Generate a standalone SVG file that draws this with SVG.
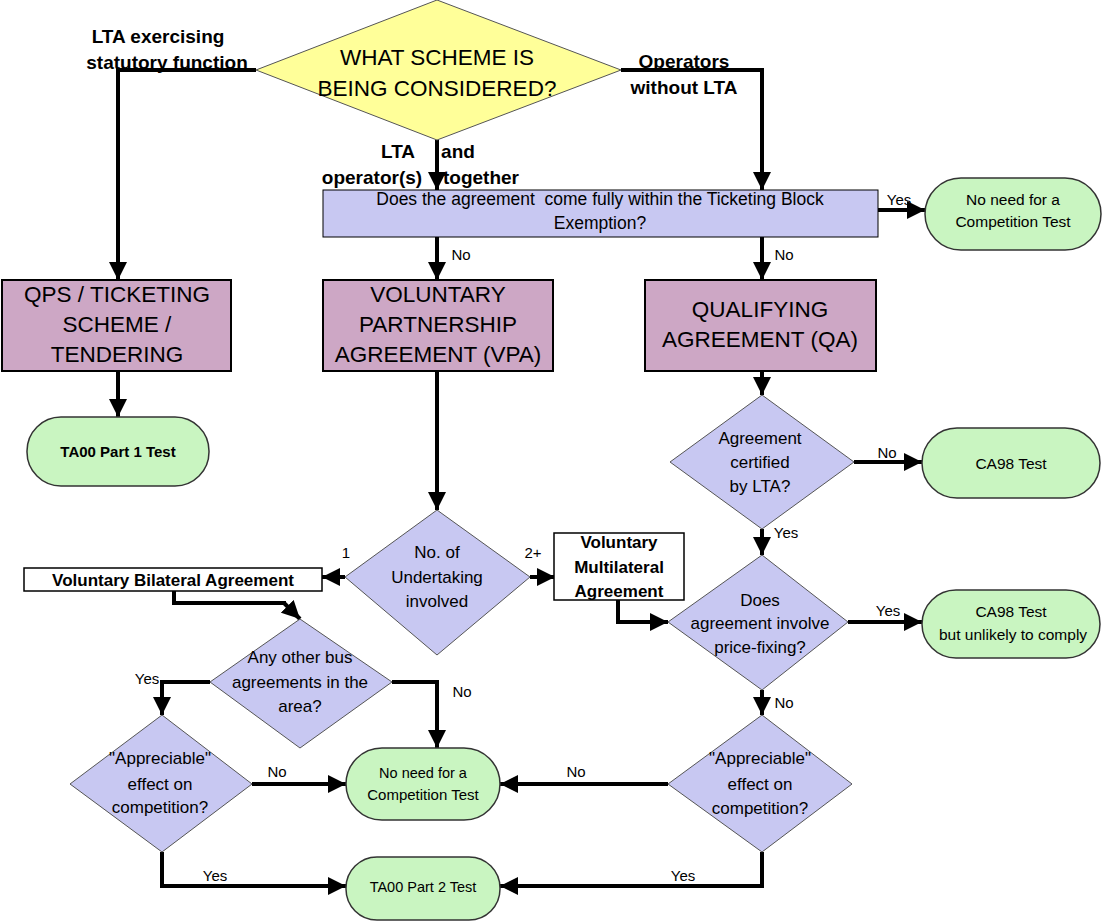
<svg xmlns="http://www.w3.org/2000/svg" width="1106" height="922" viewBox="0 0 1106 922">
<defs>
<marker id="ah" viewBox="0 0 18 18" refX="18" refY="9" markerWidth="18" markerHeight="18" markerUnits="userSpaceOnUse" orient="auto"><path d="M0,0 L18,9 L0,18 z" fill="#000"/></marker>
<style>
text{font-family:"Liberation Sans",Arial,sans-serif;fill:#000;text-anchor:middle}
.con{fill:none;stroke:#000;stroke-width:4;marker-end:url(#ah)}
.line{fill:none;stroke:#000;stroke-width:4}
.dia{fill:#c8c8f2;stroke:#555;stroke-width:1}
.yel{fill:#ffff99;stroke:#555;stroke-width:1}
.box{fill:#cda7c5;stroke:#000;stroke-width:2}
.term{fill:#c9f5c1;stroke:#333;stroke-width:1.5}
.wb{fill:#fff;stroke:#000;stroke-width:1.5}
.big{font-size:22.5px}
.dt{font-size:17px}
.tt{font-size:15.5px}
.lb{font-size:15px}
.bl{font-size:19px;font-weight:bold}
.bb{font-size:17px;font-weight:bold}
</style>
</defs>
<rect width="1106" height="922" fill="#fff"/>
<g id="connectors">
<path class="con" d="M256,70 H118 V280"/>
<path class="con" d="M621,70 H762 V190"/>
<path class="con" d="M437,140 V190"/>
<path class="con" d="M878,210 H925"/>
<path class="con" d="M437,237 V280"/>
<path class="con" d="M762,237 V280"/>
<path class="con" d="M118,371 V417"/>
<path class="con" d="M437,371 V510"/>
<path class="con" d="M762,371 V395"/>
<path class="con" d="M854,462 H922"/>
<path class="con" d="M762,529 V555"/>
<path class="con" d="M848,622 H922"/>
<path class="con" d="M762,690 V715"/>
<path class="con" d="M668,784 H500"/>
<path class="con" d="M762,852 V886 H500"/>
<path class="con" d="M345,577 H322"/>
<path class="con" d="M530,577 H555"/>
<path class="con" d="M618,600 V622 H668"/>
<path class="line" d="M174,591 V603 H286"/>
<path class="con" d="M284,603 L300,619"/>
<path class="con" d="M210,682 H162 V715"/>
<path class="con" d="M392,682 H437 V748"/>
<path class="con" d="M252,784 H346"/>
<path class="con" d="M162,852 V886 H346"/>
<text class="bl" x="158" y="43">LTA exercising</text>
<text class="bl" x="167" y="69">statutory function</text>
<text class="bl" x="684" y="68">Operators</text>
<text class="bl" x="684" y="94">without LTA</text>
<text class="bl" x="398" y="158">LTA</text>
<text class="bl" x="458" y="158">and</text>
<text class="bl" x="372" y="184">operator(s)</text>
<text class="bl" x="481" y="184">together</text>
<text class="lb" x="899" y="205">Yes</text>
<text class="lb" x="461" y="260">No</text>
<text class="lb" x="784" y="260">No</text>
<text class="lb" x="887" y="458">No</text>
<text class="lb" x="786" y="538">Yes</text>
<text class="lb" x="888" y="616">Yes</text>
<text class="lb" x="784" y="708">No</text>
<text class="lb" x="576" y="777">No</text>
<text class="lb" x="683" y="881">Yes</text>
<text class="lb" x="346" y="558">1</text>
<text class="lb" x="533" y="558">2+</text>
<text class="lb" x="147" y="684">Yes</text>
<text class="lb" x="462" y="697">No</text>
<text class="lb" x="277" y="777">No</text>
<text class="lb" x="215" y="881">Yes</text>
</g>
<g id="n-start">
<polygon class="yel" points="437,0 621,70 437,140 256,70"/>
<text class="big" x="437" y="65">WHAT SCHEME IS</text>
<text class="big" x="437" y="96">BEING CONSIDERED?</text>
</g>
<g id="n-ticketing">
<rect x="323" y="190" width="555" height="47" fill="#c8c8f2" stroke="#000" stroke-width="1"/>
<text x="600" y="205" font-size="17.5" xml:space="preserve">Does the agreement  come fully within the Ticketing Block</text>
<text x="600" y="229" font-size="17.5">Exemption?</text>
</g>
<g id="n-noneed1">
<rect class="term" x="925" y="178" width="176" height="72" rx="36"/>
<text class="tt" x="1013" y="205">No need for a</text>
<text class="tt" x="1013" y="227">Competition Test</text>
</g>
<g id="n-qps">
<rect class="box" x="2" y="280" width="229" height="91"/>
<text class="big" x="117" y="302">QPS / TICKETING</text>
<text class="big" x="117" y="332">SCHEME /</text>
<text class="big" x="117" y="362">TENDERING</text>
</g>
<g id="n-vpa">
<rect class="box" x="323" y="280" width="230" height="91"/>
<text class="big" x="438" y="302">VOLUNTARY</text>
<text class="big" x="438" y="332">PARTNERSHIP</text>
<text class="big" x="438" y="362">AGREEMENT (VPA)</text>
</g>
<g id="n-qa">
<rect class="box" x="645" y="280" width="231" height="91"/>
<text class="big" x="760" y="317">QUALIFYING</text>
<text class="big" x="760" y="347">AGREEMENT (QA)</text>
</g>
<g id="n-ta00p1">
<rect class="term" x="27" y="417" width="182" height="69" rx="34"/>
<text x="118" y="457" font-size="15" font-weight="bold">TA00 Part 1 Test</text>
</g>
<g id="n-certified">
<polygon class="dia" points="762,395 854,462 762,529 670,462"/>
<text class="dt" x="760" y="444">Agreement</text>
<text class="dt" x="760" y="468">certified</text>
<text class="dt" x="760" y="492">by LTA?</text>
</g>
<g id="n-ca98">
<rect class="term" x="922" y="428" width="178" height="70" rx="35"/>
<text class="tt" x="1011" y="469">CA98 Test</text>
</g>
<g id="n-pricefix">
<polygon class="dia" points="762,555 848,622 762,690 668,622"/>
<text class="dt" x="760" y="606">Does</text>
<text class="dt" x="760" y="629">agreement involve</text>
<text class="dt" x="760" y="653">price-fixing?</text>
</g>
<g id="n-ca98b">
<rect class="term" x="922" y="590" width="178" height="68" rx="34"/>
<text class="tt" x="1011" y="617">CA98 Test</text>
<text x="1013" y="640" font-size="15.5">but unlikely to comply</text>
</g>
<g id="n-appr-right">
<polygon class="dia" points="762,715 852,784 762,852 668,784"/>
<text class="dt" x="760" y="764">"Appreciable"</text>
<text class="dt" x="760" y="790">effect on</text>
<text class="dt" x="760" y="814">competition?</text>
</g>
<g id="n-undertaking">
<polygon class="dia" points="437,510 530,577 437,655 345,577"/>
<text class="dt" x="437" y="558">No. of</text>
<text class="dt" x="437" y="583">Undertaking</text>
<text class="dt" x="437" y="607">involved</text>
</g>
<g id="n-vba">
<rect class="wb" x="24" y="568" width="298" height="23"/>
<text class="bb" x="173" y="586">Voluntary Bilateral Agreement</text>
</g>
<g id="n-vma">
<rect class="wb" x="554" y="533" width="130" height="67"/>
<text class="bb" x="619" y="548">Voluntary</text>
<text class="bb" x="619" y="573">Multilateral</text>
<text class="bb" x="619" y="597">Agreement</text>
</g>
<g id="n-otherbus">
<polygon class="dia" points="300,619 392,682 300,748 210,682"/>
<text class="dt" x="300" y="663">Any other bus</text>
<text class="dt" x="300" y="688">agreements in the</text>
<text class="dt" x="300" y="712">area?</text>
</g>
<g id="n-appr-left">
<polygon class="dia" points="162,715 252,784 162,852 70,784"/>
<text class="dt" x="160" y="764">"Appreciable"</text>
<text class="dt" x="160" y="790">effect on</text>
<text class="dt" x="160" y="813">competition?</text>
</g>
<g id="n-noneed2">
<rect class="term" x="346" y="748" width="154" height="72" rx="36"/>
<text x="423" y="778" font-size="14.5">No need for a</text>
<text x="423" y="800" font-size="15">Competition Test</text>
</g>
<g id="n-ta00p2">
<rect class="term" x="346" y="857" width="154" height="63" rx="31"/>
<text x="423" y="892" font-size="14.5">TA00 Part 2 Test</text>
</g>
</svg>
